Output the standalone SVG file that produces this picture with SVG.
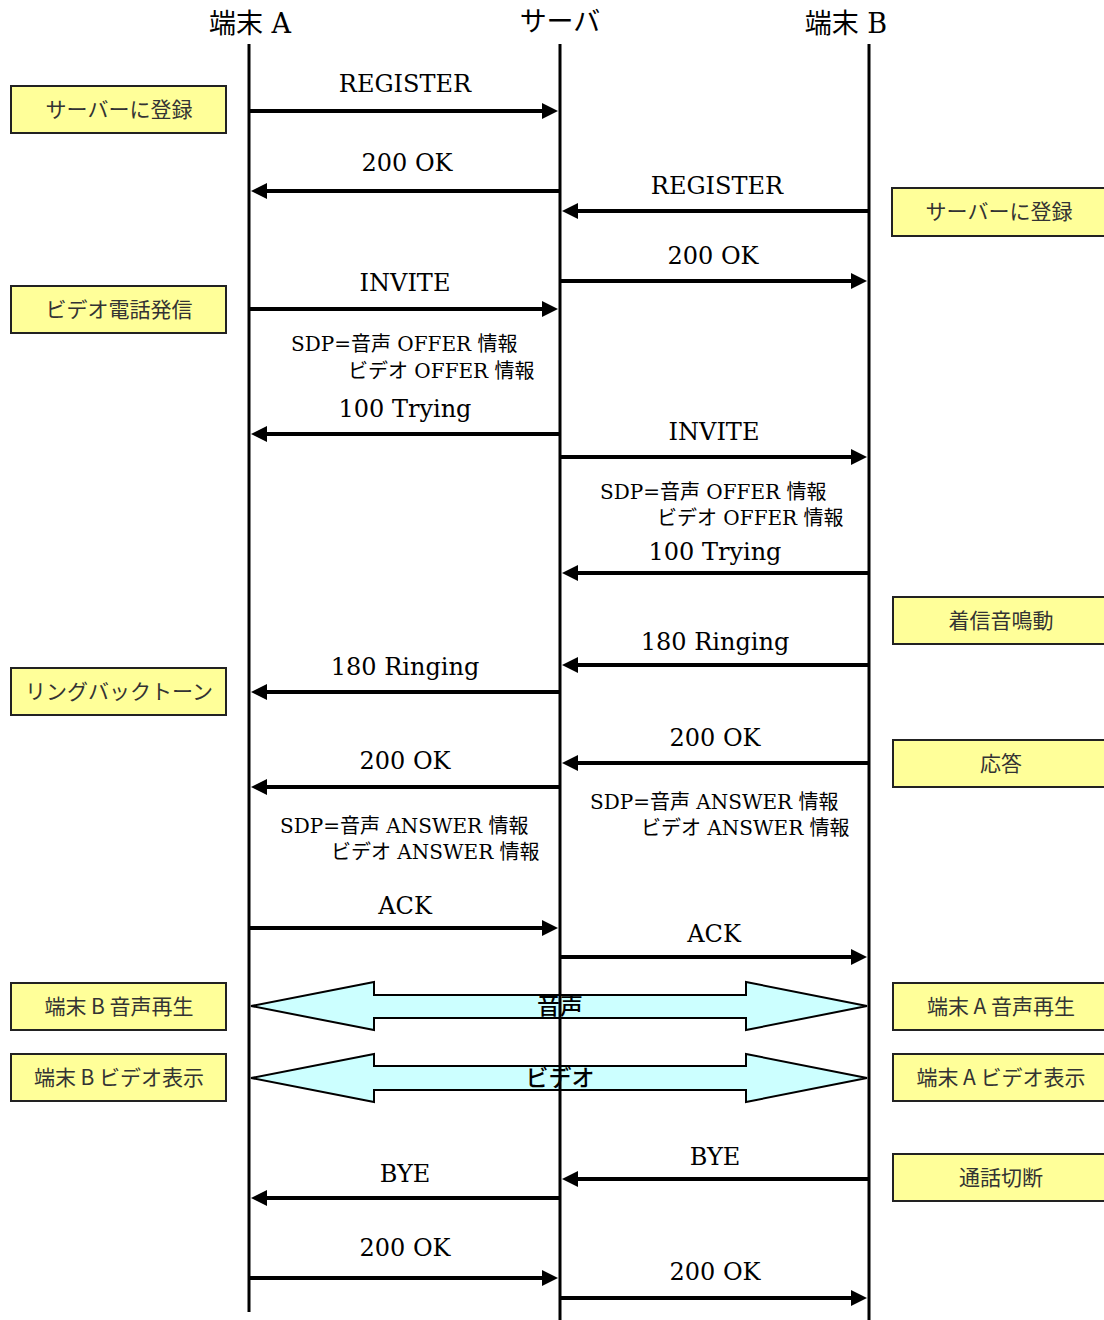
<svg xmlns="http://www.w3.org/2000/svg" width="1104" height="1320" viewBox="0 0 1104 1320">
<style>
.t{font-family:"DejaVu Serif","Noto Sans CJK JP",serif;fill:#000}
.h{font-size:27px;text-anchor:middle}
.m{font-size:24px;text-anchor:middle}
.s{font-size:20px}
.b{font-family:"Noto Sans CJK JP","Liberation Sans",sans-serif;font-size:21px;fill:#333;text-anchor:middle}
.box{fill:#FFFF99;stroke:#222;stroke-width:2}
.life{stroke:#000;stroke-width:3}
.msg{stroke:#000;stroke-width:4;fill:none;marker-end:url(#ah)}
.dbl{fill:#CCFFFF;stroke:#000;stroke-width:2}
.dt{font-family:"Noto Sans CJK JP",sans-serif;font-size:23px;font-weight:500;text-anchor:middle;fill:#000}
</style>
<defs>
<marker id="ah" markerUnits="userSpaceOnUse" markerWidth="18" markerHeight="18" refX="6" refY="8" orient="auto">
<path d="M0,0 L16,8 L0,16 z" fill="#000"/>
</marker>
</defs>
<rect width="1104" height="1320" fill="#fff"/>
<g id="connectors">
<polygon class="dbl" points="251,1006 374,982 374,995 746,995 746,982 867,1006 746,1030 746,1018 374,1018 374,1030"/>
<polygon class="dbl" points="251,1078 374,1054 374,1066 746,1066 746,1054 867,1078 746,1102 746,1090 374,1090 374,1102"/>
<line class="msg" x1="249" y1="111" x2="548" y2="111"/>
<line class="msg" x1="560" y1="191" x2="261" y2="191"/>
<line class="msg" x1="869" y1="211" x2="572" y2="211"/>
<line class="msg" x1="560" y1="281" x2="857" y2="281"/>
<line class="msg" x1="249" y1="309" x2="548" y2="309"/>
<line class="msg" x1="560" y1="434" x2="261" y2="434"/>
<line class="msg" x1="560" y1="457" x2="857" y2="457"/>
<line class="msg" x1="869" y1="573" x2="572" y2="573"/>
<line class="msg" x1="869" y1="665" x2="572" y2="665"/>
<line class="msg" x1="560" y1="692" x2="261" y2="692"/>
<line class="msg" x1="869" y1="763" x2="572" y2="763"/>
<line class="msg" x1="560" y1="787" x2="261" y2="787"/>
<line class="msg" x1="249" y1="928" x2="548" y2="928"/>
<line class="msg" x1="560" y1="957" x2="857" y2="957"/>
<line class="msg" x1="869" y1="1179" x2="572" y2="1179"/>
<line class="msg" x1="560" y1="1198" x2="261" y2="1198"/>
<line class="msg" x1="249" y1="1278" x2="548" y2="1278"/>
<line class="msg" x1="560" y1="1298" x2="857" y2="1298"/>
</g>
<g id="lifeA"><line class="life" x1="249" y1="44" x2="249" y2="1312"/><text class="t h" x="250" y="33">端末 A</text></g>
<g id="lifeS"><line class="life" x1="560" y1="44" x2="560" y2="1320"/><text class="t h" x="560" y="31">サーバ</text></g>
<g id="lifeB"><line class="life" x1="869" y1="44" x2="869" y2="1320"/><text class="t h" x="846" y="33">端末 B</text></g>
<g id="labels">
<text class="t m" x="405" y="92">REGISTER</text>
<text class="t m" x="407" y="171">200 OK</text>
<text class="t m" x="717" y="194">REGISTER</text>
<text class="t m" x="713" y="264">200 OK</text>
<text class="t m" x="405" y="291">INVITE</text>
<text class="t s" x="291" y="351">SDP=音声 OFFER 情報</text>
<text class="t s" x="348" y="378">ビデオ OFFER 情報</text>
<text class="t m" x="405" y="417">100 Trying</text>
<text class="t m" x="714" y="440">INVITE</text>
<text class="t s" x="600" y="499">SDP=音声 OFFER 情報</text>
<text class="t s" x="657" y="525">ビデオ OFFER 情報</text>
<text class="t m" x="715" y="560">100 Trying</text>
<text class="t m" x="715" y="650">180 Ringing</text>
<text class="t m" x="405" y="675">180 Ringing</text>
<text class="t m" x="715" y="746">200 OK</text>
<text class="t m" x="405" y="769">200 OK</text>
<text class="t s" x="590" y="809">SDP=音声 ANSWER 情報</text>
<text class="t s" x="641" y="835">ビデオ ANSWER 情報</text>
<text class="t s" x="280" y="833">SDP=音声 ANSWER 情報</text>
<text class="t s" x="331" y="859">ビデオ ANSWER 情報</text>
<text class="t m" x="405" y="914">ACK</text>
<text class="t m" x="714" y="942">ACK</text>
<text class="dt" x="560" y="1014">音声</text>
<text class="dt" x="560" y="1086">ビデオ</text>
<text class="t m" x="715" y="1165">BYE</text>
<text class="t m" x="405" y="1182">BYE</text>
<text class="t m" x="405" y="1256">200 OK</text>
<text class="t m" x="715" y="1280">200 OK</text>
</g>
<g id="boxL1"><rect class="box" x="11" y="86" width="215" height="47"/><text class="b" x="119" y="117">サーバーに登録</text></g>
<g id="boxL2"><rect class="box" x="11" y="286" width="215" height="47"/><text class="b" x="119" y="317">ビデオ電話発信</text></g>
<g id="boxL3"><rect class="box" x="11" y="668" width="215" height="47"/><text class="b" x="119" y="699">リングバックトーン</text></g>
<g id="boxL4"><rect class="box" x="11" y="983" width="215" height="47"/><text class="b" x="119" y="1014">端末 B 音声再生</text></g>
<g id="boxL5"><rect class="box" x="11" y="1054" width="215" height="47"/><text class="b" x="119" y="1085">端末 B ビデオ表示</text></g>
<g id="boxR1"><rect class="box" x="892" y="188" width="215" height="48"/><text class="b" x="999" y="219">サーバーに登録</text></g>
<g id="boxR2"><rect class="box" x="893" y="597" width="215" height="47"/><text class="b" x="1001" y="628">着信音鳴動</text></g>
<g id="boxR3"><rect class="box" x="893" y="740" width="215" height="47"/><text class="b" x="1001" y="771">応答</text></g>
<g id="boxR4"><rect class="box" x="893" y="983" width="215" height="47"/><text class="b" x="1001" y="1014">端末 A 音声再生</text></g>
<g id="boxR5"><rect class="box" x="893" y="1054" width="215" height="47"/><text class="b" x="1001" y="1085">端末 A ビデオ表示</text></g>
<g id="boxR6"><rect class="box" x="893" y="1154" width="215" height="47"/><text class="b" x="1001" y="1185">通話切断</text></g>
</svg>
